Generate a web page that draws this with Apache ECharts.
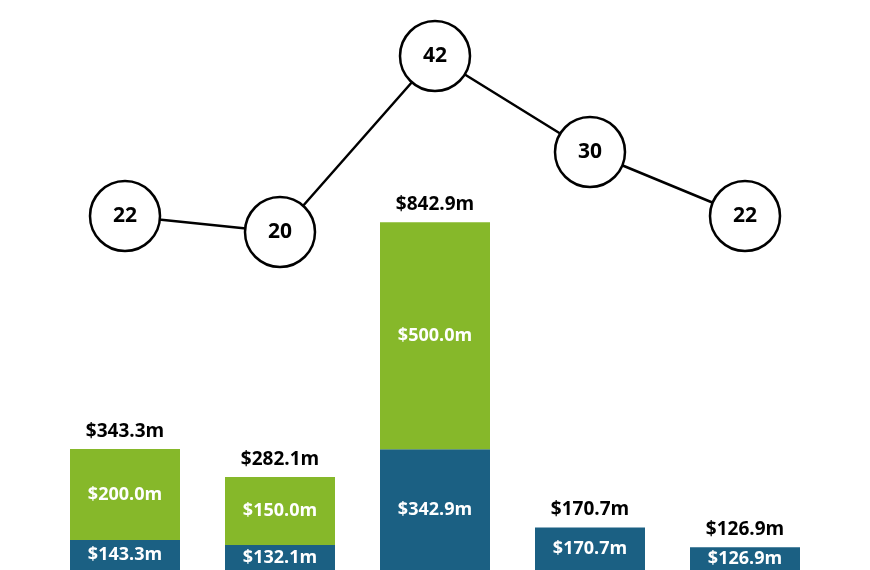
<!DOCTYPE html>
<html><head><meta charset="utf-8">
<script src="https://cdn.jsdelivr.net/npm/echarts@6/dist/echarts.min.js"></script>
<style>html,body{margin:0;background:#fff}#c{width:870px;height:570px}</style>
</head><body><div id="c"></div>
<script>
const categories = ['A','B','C','D','E'];
const blueValues = [143.3, 132.1, 342.9, 170.7, 126.9];
const greenValues = [200.0, 150.0, 500.0, null, null];
const totals = [343.3, 282.1, 842.9, 170.7, 126.9];
const counts = [22, 20, 42, 30, 22];
const fmt = v => '$' + v.toFixed(1) + 'm';
const chart = echarts.init(document.getElementById('c'));
chart.setOption({
  animation:false,
  grid:{left:47.5,right:47.5,top:0,bottom:0,containLabel:false},
  xAxis:{type:'category',data:categories,show:false},
  yAxis:[{type:'value',min:77,max:1332.5,show:false},{type:'value',min:-22.25,max:49,show:false}],
  textStyle:{fontFamily:'Open Sans'},
  series:[
    {type:'bar',stack:'s',data:blueValues,barWidth:110,itemStyle:{color:'#1b6083'},
     label:{show:true,position:'inside',color:'#fff',fontWeight:'bold',fontSize:18,fontFamily:'Open Sans',formatter:p=>fmt(p.value)}},
    {type:'bar',stack:'s',data:greenValues,barWidth:110,itemStyle:{color:'#86b82a'},
     label:{show:true,position:'inside',color:'#fff',fontWeight:'bold',fontSize:18,fontFamily:'Open Sans',formatter:p=>fmt(p.value)}},
    {type:'bar',stack:'s',data:categories.map(()=>0),barWidth:110,itemStyle:{color:'transparent'},
     label:{show:true,position:'top',distance:8,color:'#000',fontWeight:'bold',fontSize:19,fontFamily:'Open Sans',formatter:p=>fmt(totals[p.dataIndex])}},
    {type:'line',yAxisIndex:1,data:counts,z:10,symbol:'circle',symbolSize:70,
     lineStyle:{color:'#000',width:2.5},itemStyle:{color:'#fff',borderColor:'#000',borderWidth:2.5},
     label:{show:true,position:'inside',color:'#000',fontWeight:'bold',fontSize:21,fontFamily:'Open Sans'}}
  ]
});
</script></body></html>
